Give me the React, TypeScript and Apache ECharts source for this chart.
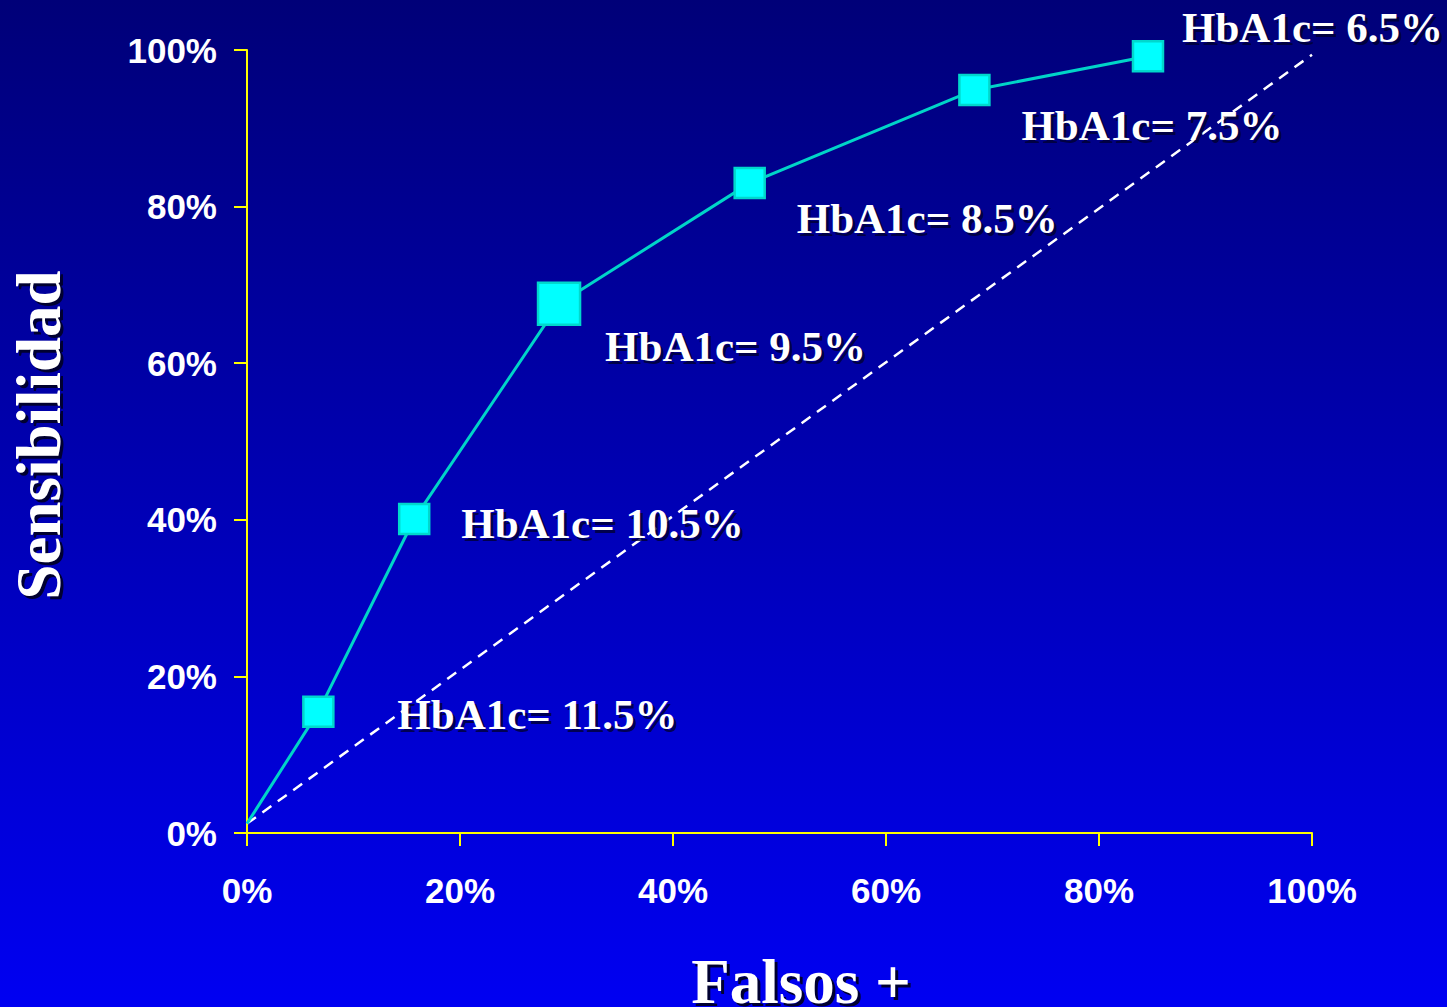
import React, { useEffect, useRef } from "react";
import * as echarts from "echarts";

// ROC curve points: false-positive rate (%) vs sensitivity (%) for each HbA1c cut-off
const falsePositive = [0, 6.7, 15.7, 29.3, 47.2, 68.3, 84.6];
const sensitivity = [1.2, 15.5, 40.1, 67.6, 83.0, 94.9, 99.2];
const cutoffs = ["", "11.5%", "10.5%", "9.5%", "8.5%", "7.5%", "6.5%"];

// Reference diagonal (chance line)
const diagonalX = [0, 100];
const diagonalY = [1.2, 99.4];

// Axis range for both axes, in percent
const axisMin = 0;
const axisMax = 100;
const axisStep = 20;

const xTitle = "Falsos +";
const yTitle = "Sensibilidad";

// Label placement relative to each marker centre [dx, dy], and marker sizes
const labelOffsets = [
  [0, 0],
  [79, 3],
  [47, 4],
  [46, 43],
  [47, 35],
  [47, 36],
  [34, -29],
];
const markerSizes = [0, 30, 30, 42, 30, 30, 30];

const W = 1447;
const H = 1007;
const SHADOW = "#000030";
const SHIFT = 3;

export default function App() {
  const ref = useRef<HTMLDivElement>(null);

  useEffect(() => {
    if (!ref.current) return;
    const chart = echarts.init(ref.current, null, { renderer: "svg", width: W, height: H });

    const serif = "'Liberation Serif', 'Times New Roman', serif";
    const sans = "'Liberation Sans', Arial, sans-serif";

    const pointData = (shift: number) =>
      falsePositive.map((x, i) => ({
        value: [x, sensitivity[i]],
        name: cutoffs[i],
        symbol: i === 0 ? "none" : "rect",
        symbolSize: markerSizes[i],
        label: {
          show: i > 0,
          position: "inside",
          align: "left",
          verticalAlign: "middle",
          offset: [labelOffsets[i][0] + shift, labelOffsets[i][1] + shift],
        },
      }));

    const labelFont = {
      fontFamily: serif,
      fontWeight: "bold",
      fontSize: 43,
      formatter: (p: any) => `HbA1c= ${p.name}`,
    };

    const axisCommon = {
      type: "value",
      min: axisMin,
      max: axisMax,
      interval: axisStep,
      axisLine: { show: true, lineStyle: { color: "#ffff00", width: 2 } },
      axisTick: { show: true, inside: false, length: 13, lineStyle: { color: "#ffff00", width: 2 } },
      splitLine: { show: false },
    };

    const tickLabel = {
      color: "#ffffff",
      fontFamily: sans,
      fontWeight: "bold",
      fontSize: 35,
      formatter: "{value}%",
    };

    const title = (text: string, x: number, y: number, rotation: number, fill: string) => ({
      type: "text",
      x,
      y,
      rotation,
      style: {
        text,
        fill,
        font: `bold 63px ${serif}`,
        align: "center",
        verticalAlign: "middle",
      },
    });

    chart.setOption({
      animation: false,
      backgroundColor: new echarts.graphic.LinearGradient(0, 0, 0, 1, [
        { offset: 0, color: "#000078" },
        { offset: 1, color: "#0000f2" },
      ]),
      grid: { left: 247, right: W - 1312, top: 50, bottom: H - 833, containLabel: false },
      xAxis: { ...axisCommon, axisLabel: { ...tickLabel, margin: 40 } },
      yAxis: { ...axisCommon, axisLabel: { ...tickLabel, margin: 30 } },
      series: [
        {
          type: "line",
          data: diagonalX.map((x, i) => [x, diagonalY[i]]),
          symbol: "none",
          lineStyle: { color: "#ffffff", width: 2.5, type: [11, 8] },
          z: 1,
        },
        // drop shadow of the cut-off labels
        {
          type: "scatter",
          data: pointData(SHIFT),
          itemStyle: { color: "transparent", borderWidth: 0 },
          label: { ...labelFont, color: SHADOW },
          silent: true,
          z: 2,
        },
        {
          type: "line",
          data: pointData(0),
          lineStyle: { color: "#00d4c8", width: 3 },
          itemStyle: { color: "#00ffff", borderColor: "#00d8cc", borderWidth: 2.5 },
          label: { ...labelFont, color: "#ffffff" },
          z: 3,
        },
      ],
      graphic: [
        title(xTitle, 801 + SHIFT, 982 + SHIFT, 0, SHADOW),
        title(xTitle, 801, 982, 0, "#ffffff"),
        title(yTitle, 39 + SHIFT, 435 + SHIFT, Math.PI / 2, SHADOW),
        title(yTitle, 39, 435, Math.PI / 2, "#ffffff"),
      ],
    });

    return () => chart.dispose();
  }, []);

  return (
    <div
      ref={ref}
      style={{ position: "fixed", left: 0, top: 0, width: W, height: H }}
    />
  );
}
